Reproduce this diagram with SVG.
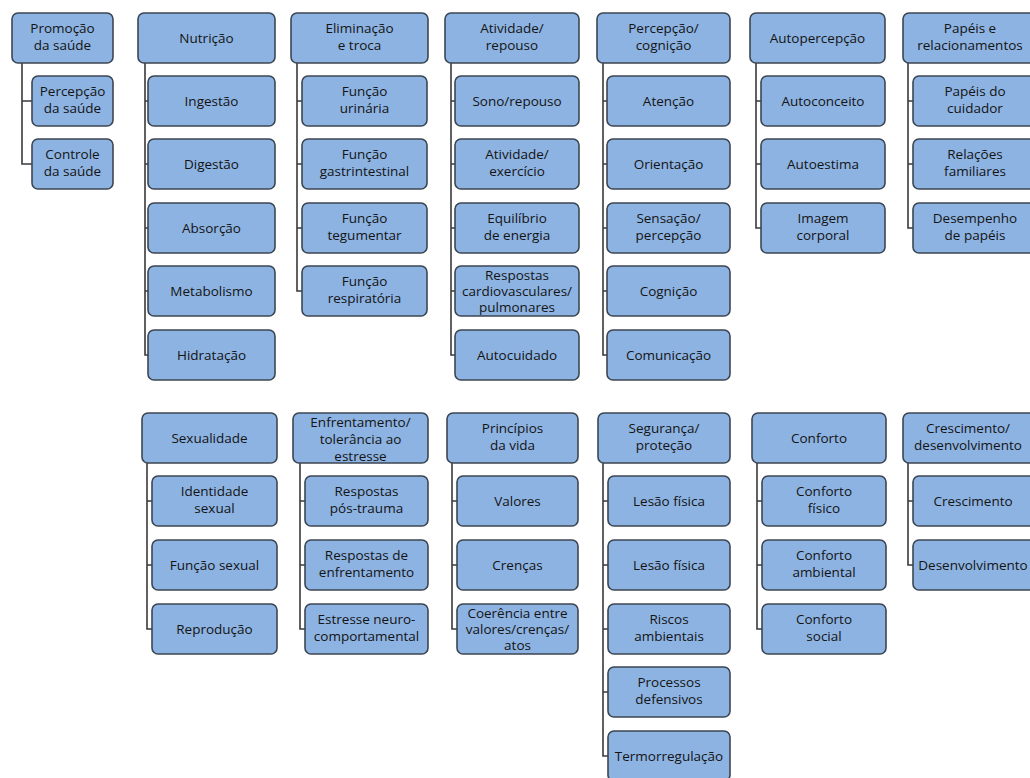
<svg xmlns="http://www.w3.org/2000/svg" width="1030" height="778" viewBox="0 0 1030 778">
<style>
.b{fill:#8db3e2;stroke:#3c4652;stroke-width:1.6}
.t{font-family:"Open Sans","Noto Sans","Liberation Sans",sans-serif;font-size:13.5px;fill:#141414;text-anchor:middle}
.c{fill:none;stroke:#3a3a3a;stroke-width:1.6}
</style>
<rect width="1030" height="778" fill="#ffffff"/>
<g id="connectors">
<path class="c" d="M22 63V164H32M22 101H32"/>
<path class="c" d="M145 63V355H148M145 101H148M145 164H148M145 228H148M145 291H148"/>
<path class="c" d="M297 63V291H302M297 101H302M297 164H302M297 228H302"/>
<path class="c" d="M451 63V355H455M451 101H455M451 164H455M451 228H455M451 291H455"/>
<path class="c" d="M603 63V355H607M603 101H607M603 164H607M603 228H607M603 291H607"/>
<path class="c" d="M756 63V228H761M756 101H761M756 164H761"/>
<path class="c" d="M908 63V228H913M908 101H913M908 164H913"/>
<path class="c" d="M147 463V629H152M147 501H152M147 565H152"/>
<path class="c" d="M300 463V629H305M300 501H305M300 565H305"/>
<path class="c" d="M452 463V629H457M452 501H457M452 565H457"/>
<path class="c" d="M603 463V756H608M603 501H608M603 565H608M603 629H608M603 692H608"/>
<path class="c" d="M757 463V629H762M757 501H762M757 565H762"/>
<path class="c" d="M908 463V565H913M908 501H913"/>
</g>
<g id="n-promocao"><rect class="b" x="12" y="13" width="101" height="50" rx="6"/><text class="t" x="62.5" y="33">Promoção</text><text class="t" x="62.5" y="50">da saúde</text></g>
<g id="n-percepcao-saude"><rect class="b" x="32" y="76" width="81" height="50" rx="6"/><text class="t" x="72.5" y="96">Percepção</text><text class="t" x="72.5" y="113">da saúde</text></g>
<g id="n-controle-saude"><rect class="b" x="32" y="139" width="81" height="50" rx="6"/><text class="t" x="72.5" y="159">Controle</text><text class="t" x="72.5" y="176">da saúde</text></g>

<g id="n-nutricao"><rect class="b" x="138" y="13" width="137" height="50" rx="6"/><text class="t" x="206.5" y="42.5">Nutrição</text></g>
<g id="n-ingestao"><rect class="b" x="148" y="76" width="127" height="50" rx="6"/><text class="t" x="211.5" y="105.5">Ingestão</text></g>
<g id="n-digestao"><rect class="b" x="148" y="139" width="127" height="50" rx="6"/><text class="t" x="211.5" y="168.5">Digestão</text></g>
<g id="n-absorcao"><rect class="b" x="148" y="203" width="127" height="50" rx="6"/><text class="t" x="211.5" y="232.5">Absorção</text></g>
<g id="n-metabolismo"><rect class="b" x="148" y="266" width="127" height="50" rx="6"/><text class="t" x="211.5" y="295.5">Metabolismo</text></g>
<g id="n-hidratacao"><rect class="b" x="148" y="330" width="127" height="50" rx="6"/><text class="t" x="211.5" y="359.5">Hidratação</text></g>

<g id="n-eliminacao"><rect class="b" x="291" y="13" width="137" height="50" rx="6"/><text class="t" x="359.5" y="33">Eliminação</text><text class="t" x="359.5" y="50">e troca</text></g>
<g id="n-urinaria"><rect class="b" x="302" y="76" width="125" height="50" rx="6"/><text class="t" x="364.5" y="96">Função</text><text class="t" x="364.5" y="113">urinária</text></g>
<g id="n-gastro"><rect class="b" x="302" y="139" width="125" height="50" rx="6"/><text class="t" x="364.5" y="159">Função</text><text class="t" x="364.5" y="176">gastrintestinal</text></g>
<g id="n-tegumentar"><rect class="b" x="302" y="203" width="125" height="50" rx="6"/><text class="t" x="364.5" y="223">Função</text><text class="t" x="364.5" y="240">tegumentar</text></g>
<g id="n-respiratoria"><rect class="b" x="302" y="266" width="125" height="50" rx="6"/><text class="t" x="364.5" y="286">Função</text><text class="t" x="364.5" y="303">respiratória</text></g>

<g id="n-atividade"><rect class="b" x="445" y="13" width="134" height="50" rx="6"/><text class="t" x="512" y="33">Atividade/</text><text class="t" x="512" y="50">repouso</text></g>
<g id="n-sono"><rect class="b" x="455" y="76" width="124" height="50" rx="6"/><text class="t" x="517" y="105.5">Sono/repouso</text></g>
<g id="n-exercicio"><rect class="b" x="455" y="139" width="124" height="50" rx="6"/><text class="t" x="517" y="159">Atividade/</text><text class="t" x="517" y="176">exercício</text></g>
<g id="n-equilibrio"><rect class="b" x="455" y="203" width="124" height="50" rx="6"/><text class="t" x="517" y="223">Equilíbrio</text><text class="t" x="517" y="240">de energia</text></g>
<g id="n-cardio"><rect class="b" x="455" y="266" width="124" height="50" rx="6"/><text class="t" x="517" y="280">Respostas</text><text class="t" x="517" y="296">cardiovasculares/</text><text class="t" x="517" y="312">pulmonares</text></g>
<g id="n-autocuidado"><rect class="b" x="455" y="330" width="124" height="50" rx="6"/><text class="t" x="517" y="359.5">Autocuidado</text></g>

<g id="n-percepcao"><rect class="b" x="597" y="13" width="133" height="50" rx="6"/><text class="t" x="663.5" y="33">Percepção/</text><text class="t" x="663.5" y="50">cognição</text></g>
<g id="n-atencao"><rect class="b" x="607" y="76" width="123" height="50" rx="6"/><text class="t" x="668.5" y="105.5">Atenção</text></g>
<g id="n-orientacao"><rect class="b" x="607" y="139" width="123" height="50" rx="6"/><text class="t" x="668.5" y="168.5">Orientação</text></g>
<g id="n-sensacao"><rect class="b" x="607" y="203" width="123" height="50" rx="6"/><text class="t" x="668.5" y="223">Sensação/</text><text class="t" x="668.5" y="240">percepção</text></g>
<g id="n-cognicao"><rect class="b" x="607" y="266" width="123" height="50" rx="6"/><text class="t" x="668.5" y="295.5">Cognição</text></g>
<g id="n-comunicacao"><rect class="b" x="607" y="330" width="123" height="50" rx="6"/><text class="t" x="668.5" y="359.5">Comunicação</text></g>

<g id="n-autopercepcao"><rect class="b" x="750" y="13" width="135" height="50" rx="6"/><text class="t" x="817.5" y="42.5">Autopercepção</text></g>
<g id="n-autoconceito"><rect class="b" x="761" y="76" width="124" height="50" rx="6"/><text class="t" x="823" y="105.5">Autoconceito</text></g>
<g id="n-autoestima"><rect class="b" x="761" y="139" width="124" height="50" rx="6"/><text class="t" x="823" y="168.5">Autoestima</text></g>
<g id="n-imagem"><rect class="b" x="761" y="203" width="124" height="50" rx="6"/><text class="t" x="823" y="223">Imagem</text><text class="t" x="823" y="240">corporal</text></g>

<g id="n-papeis"><rect class="b" x="903" y="13" width="137" height="50" rx="6"/><text class="t" x="970" y="33">Papéis e</text><text class="t" x="970" y="50">relacionamentos</text></g>
<g id="n-cuidador"><rect class="b" x="913" y="76" width="127" height="50" rx="6"/><text class="t" x="975" y="96">Papéis do</text><text class="t" x="975" y="113">cuidador</text></g>
<g id="n-familiares"><rect class="b" x="913" y="139" width="127" height="50" rx="6"/><text class="t" x="975" y="159">Relações</text><text class="t" x="975" y="176">familiares</text></g>
<g id="n-desempenho"><rect class="b" x="913" y="203" width="127" height="50" rx="6"/><text class="t" x="975" y="223">Desempenho</text><text class="t" x="975" y="240">de papéis</text></g>

<g id="n-sexualidade"><rect class="b" x="142" y="413" width="135" height="50" rx="6"/><text class="t" x="209.5" y="442.5">Sexualidade</text></g>
<g id="n-identidade"><rect class="b" x="152" y="476" width="125" height="50" rx="6"/><text class="t" x="214.5" y="496">Identidade</text><text class="t" x="214.5" y="513">sexual</text></g>
<g id="n-funcao-sexual"><rect class="b" x="152" y="540" width="125" height="50" rx="6"/><text class="t" x="214.5" y="569.5">Função sexual</text></g>
<g id="n-reproducao"><rect class="b" x="152" y="604" width="125" height="50" rx="6"/><text class="t" x="214.5" y="633.5">Reprodução</text></g>

<g id="n-enfrentamento"><rect class="b" x="293" y="413" width="135" height="50" rx="6"/><text class="t" x="360.5" y="427">Enfrentamento/</text><text class="t" x="360.5" y="444">tolerância ao</text><text class="t" x="360.5" y="461">estresse</text></g>
<g id="n-pos-trauma"><rect class="b" x="305" y="476" width="123" height="50" rx="6"/><text class="t" x="366.5" y="496">Respostas</text><text class="t" x="366.5" y="513">pós-trauma</text></g>
<g id="n-resp-enfrent"><rect class="b" x="305" y="540" width="123" height="50" rx="6"/><text class="t" x="366.5" y="560">Respostas de</text><text class="t" x="366.5" y="577">enfrentamento</text></g>
<g id="n-neuro"><rect class="b" x="305" y="604" width="123" height="50" rx="6"/><text class="t" x="366.5" y="624">Estresse neuro-</text><text class="t" x="366.5" y="641">comportamental</text></g>

<g id="n-principios"><rect class="b" x="447" y="413" width="131" height="50" rx="6"/><text class="t" x="512.5" y="433">Princípios</text><text class="t" x="512.5" y="450">da vida</text></g>
<g id="n-valores"><rect class="b" x="457" y="476" width="121" height="50" rx="6"/><text class="t" x="517.5" y="505.5">Valores</text></g>
<g id="n-crencas"><rect class="b" x="457" y="540" width="121" height="50" rx="6"/><text class="t" x="517.5" y="569.5">Crenças</text></g>
<g id="n-coerencia"><rect class="b" x="457" y="604" width="121" height="50" rx="6"/><text class="t" x="517.5" y="618">Coerência entre</text><text class="t" x="517.5" y="634">valores/crenças/</text><text class="t" x="517.5" y="650">atos</text></g>

<g id="n-seguranca"><rect class="b" x="598" y="413" width="132" height="50" rx="6"/><text class="t" x="664" y="433">Segurança/</text><text class="t" x="664" y="450">proteção</text></g>
<g id="n-lesao1"><rect class="b" x="608" y="476" width="122" height="50" rx="6"/><text class="t" x="669" y="505.5">Lesão física</text></g>
<g id="n-lesao2"><rect class="b" x="608" y="540" width="122" height="50" rx="6"/><text class="t" x="669" y="569.5">Lesão física</text></g>
<g id="n-riscos"><rect class="b" x="608" y="604" width="122" height="50" rx="6"/><text class="t" x="669" y="624">Riscos</text><text class="t" x="669" y="641">ambientais</text></g>
<g id="n-processos"><rect class="b" x="608" y="667" width="122" height="50" rx="6"/><text class="t" x="669" y="687">Processos</text><text class="t" x="669" y="704">defensivos</text></g>
<g id="n-termo"><rect class="b" x="608" y="731" width="122" height="50" rx="6"/><text class="t" x="669" y="760.5">Termorregulação</text></g>

<g id="n-conforto"><rect class="b" x="752" y="413" width="134" height="50" rx="6"/><text class="t" x="819" y="442.5">Conforto</text></g>
<g id="n-conf-fisico"><rect class="b" x="762" y="476" width="124" height="50" rx="6"/><text class="t" x="824" y="496">Conforto</text><text class="t" x="824" y="513">físico</text></g>
<g id="n-conf-amb"><rect class="b" x="762" y="540" width="124" height="50" rx="6"/><text class="t" x="824" y="560">Conforto</text><text class="t" x="824" y="577">ambiental</text></g>
<g id="n-conf-social"><rect class="b" x="762" y="604" width="124" height="50" rx="6"/><text class="t" x="824" y="624">Conforto</text><text class="t" x="824" y="641">social</text></g>

<g id="n-crescimento-desenv"><rect class="b" x="903" y="413" width="137" height="50" rx="6"/><text class="t" x="968" y="433">Crescimento/</text><text class="t" x="968" y="450">desenvolvimento</text></g>
<g id="n-crescimento"><rect class="b" x="913" y="476" width="127" height="50" rx="6"/><text class="t" x="973" y="505.5">Crescimento</text></g>
<g id="n-desenvolvimento"><rect class="b" x="913" y="540" width="127" height="50" rx="6"/><text class="t" x="973" y="569.5">Desenvolvimento</text></g>
</svg>
